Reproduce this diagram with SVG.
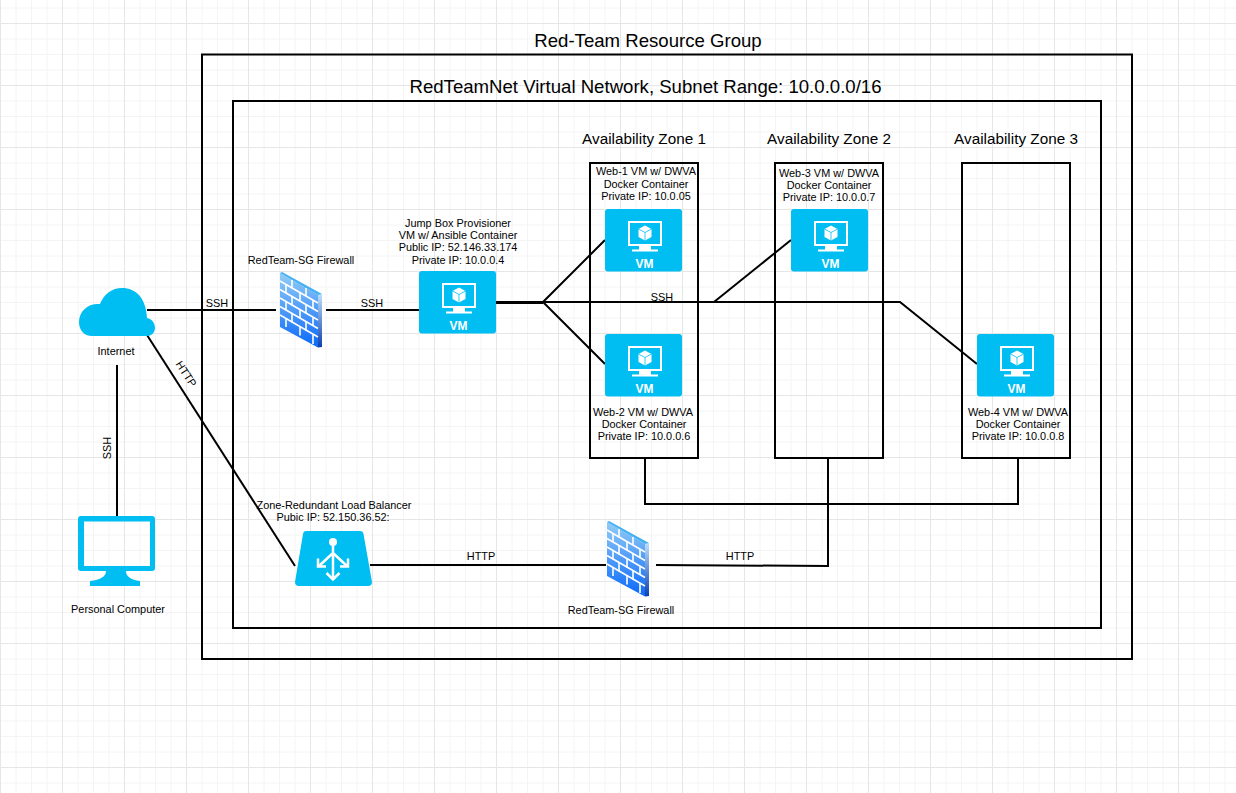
<svg xmlns="http://www.w3.org/2000/svg" xmlns:xlink="http://www.w3.org/1999/xlink" width="1236" height="793" viewBox="0 0 1236 793">
<style>
text{font-family:"Liberation Sans",Arial,sans-serif;fill:#000;text-anchor:middle}
.s{font-size:10.9px}
.l{font-size:18.600px}
.z{font-size:15.300px}
.box{fill:none;stroke:#000;stroke-width:2}
.c{fill:none;stroke:#000;stroke-width:2}
.b{fill:#00bef2}
.w{fill:#fff}
.vmt{font-size:12px;font-weight:bold;fill:#fff}
</style>
<defs>
<pattern id="grid" width="62" height="62" patternUnits="userSpaceOnUse" x="0" y="23">
<path d="M0 .5H62M0 16H62M0 31.5H62M0 47H62M.5 0V62M16 0V62M31.5 0V62M47 0V62" fill="none" stroke="#f4f4f4" stroke-width="1"/>
<path d="M0 .5H62M.5 0V62" fill="none" stroke="#e6e6e6" stroke-width="1"/>
</pattern>
<linearGradient id="fw" x1="0" y1="0" x2="0" y2="1"><stop offset="0" stop-color="#93cdf6"/><stop offset="1" stop-color="#0a68fa"/></linearGradient>
<linearGradient id="fs" x1="0" y1="0" x2="0" y2="1"><stop offset="0" stop-color="#bfe0fa"/><stop offset="1" stop-color="#0b3fae"/></linearGradient>
<g id="vm">
<rect width="77" height="62.500" rx="3" class="b"/>
<path class="w" fill-rule="evenodd" d="M23 12h34v25H46v3.500h7v2H27v-2h7V37H23zM25 14v21h30V14z"/>
<path class="w" d="M40 16.500l6.500 3.500v8L40 31.500l-6.500-3.500v-8z"/>
<path d="M33.500 20L40 23.500l6.500-3.500M40 23.500v8" stroke="#00bef2" stroke-width=".8" fill="none"/>
<text x="39.500" y="59" class="vmt">VM</text>
</g>
<g id="firewall">
<path d="M0 0L38 22V74.500L0 54z" fill="url(#fw)"/>
<path d="M38 22L42 21V74L38 74.500z" fill="url(#fs)"/>
<path d="M0 0L2 -1L42 21L38 22z" fill="#45b0f2"/>
<path d="M0 8L38 30M0 16.500L38 38.500M0 25L38 47M0 33.500L38 55.500M0 42L38 64" stroke="#fff" stroke-width="1.600" fill="none"/>
<path d="M12 7V15.500M26 15V23.500M6 12V20.500M20 20V28.500M33 27.500V36M12 24V32.500M26 32V40.500M6 29V37.500M20 37V45.500M33 44.500V53M12 41V49.500M26 49V57.500M6 46V54M20 54V62.500M33 61.500V71" stroke="#fff" stroke-width="1.600" fill="none"/>
</g>
</defs>
<rect width="1236" height="793" fill="#fff"/>
<rect width="1236" height="793" fill="url(#grid)"/>

<g id="groups">
<g id="resource-group"><rect class="box" x="202" y="54.500" width="930" height="604.500"/><text class="l" x="648" y="47">Red-Team Resource Group</text></g>
<g id="virtual-network"><rect class="box" x="233" y="101" width="868" height="527"/><text class="l" x="645.500" y="92.500">RedTeamNet Virtual Network, Subnet Range: 10.0.0.0/16</text></g>
<g id="zone-1"><rect class="box" x="590" y="163" width="108" height="295"/><text x="644" y="144" class="z">Availability Zone 1</text></g>
<g id="zone-2"><rect class="box" x="775" y="163" width="108" height="295"/><text x="829" y="144" class="z">Availability Zone 2</text></g>
<g id="zone-3"><rect class="box" x="962" y="163" width="108" height="295"/><text x="1016" y="144" class="z">Availability Zone 3</text></g>
</g>

<g id="connectors">
<path class="c" d="M147 310H276"/>
<path class="c" d="M326 310H419"/>
<path class="c" d="M496 302H900L977 364"/>
<path class="c" d="M496 303H543"/>
<path class="c" d="M543 302L605 240M543 302L605 364"/>
<path class="c" d="M714 302L791 240"/>
<path class="c" d="M117 365V516"/>
<path class="c" d="M147 335L295 566"/>
<path class="c" d="M370 565H606"/>
<path class="c" d="M656 565L828 566V458"/>
<path class="c" d="M645 458V504H1018V458"/>
<text class="s" x="217" y="307">SSH</text>
<text class="s" x="372" y="307">SSH</text>
<text class="s" x="662" y="301">SSH</text>
<text class="s" x="481" y="560">HTTP</text>
<text class="s" x="740" y="560">HTTP</text>
<text class="s" transform="translate(111 448) rotate(-90)">SSH</text>
<text class="s" transform="translate(183 376) rotate(57)">HTTP</text>
</g>

<g id="internet">
<path class="b" d="M92 336C84 336 79 330 79 322C79 311 88 303 100 304C104 294 112 288 122 288C136 288 146 298 147 318C152 319 155 323 155 328C155 333 151 336 147 336z"/>
<text class="s" x="116" y="355">Internet</text>
</g>
<g id="personal-computer">
<path class="b" fill-rule="evenodd" d="M81 516H152Q155 516 155 519V568Q155 571 152 571H126Q126 579 140 581V586H90V581Q106 579 106 571H81Q78 571 78 568V519Q78 516 81 516zM84 521.500V566H150V521.500z"/>
<text class="s" x="118" y="613">Personal Computer</text>
</g>
<g id="firewall-top">
<text class="s" x="301" y="264">RedTeam-SG Firewall</text>
<use href="#firewall" x="280" y="273"/>
</g>
<g id="jump-box">
<text class="s" x="458" y="227">Jump Box Provisioner</text>
<text class="s" x="458" y="239">VM w/ Ansible Container</text>
<text class="s" x="458" y="251">Public IP: 52.146.33.174</text>
<text class="s" x="458" y="264">Private IP: 10.0.0.4</text>
<use href="#vm" x="419" y="271"/>
</g>
<g id="web-1">
<text class="s" x="646" y="175">Web-1 VM w/ DWVA</text>
<text class="s" x="646" y="188">Docker Container</text>
<text class="s" x="646" y="200">Private IP: 10.0.05</text>
<use href="#vm" x="605" y="209"/>
</g>
<g id="web-2">
<use href="#vm" x="605" y="334"/>
<text class="s" x="643" y="416">Web-2 VM w/ DWVA</text>
<text class="s" x="644" y="428">Docker Container</text>
<text class="s" x="644" y="440">Private IP: 10.0.0.6</text>
</g>
<g id="web-3">
<text class="s" x="829" y="177">Web-3 VM w/ DWVA</text>
<text class="s" x="829" y="189">Docker Container</text>
<text class="s" x="829" y="201">Private IP: 10.0.0.7</text>
<use href="#vm" x="791" y="209"/>
</g>
<g id="web-4">
<use href="#vm" x="977" y="334"/>
<text class="s" x="1018" y="416">Web-4 VM w/ DWVA</text>
<text class="s" x="1018" y="428">Docker Container</text>
<text class="s" x="1018" y="440">Private IP: 10.0.0.8</text>
</g>
<g id="load-balancer">
<text class="s" x="334" y="509">Zone-Redundant Load Balancer</text>
<text class="s" x="333" y="521">Pubic IP: 52.150.36.52:</text>
<path class="b" d="M306 531H360Q363 531 363.500 534L372 582Q372 586 368 586H299Q295 586 295 582L303 534Q303.500 531 306 531z"/>
<circle cx="333" cy="542" r="4" class="w"/>
<path d="M333 542V579M333 553L319 566M333 553L347 566" stroke="#fff" stroke-width="2.500" fill="none"/>
<path d="M326.500 573L333 579.500L339.500 573M318 558.500V566.500H326M348 558.500V566.500H340" stroke="#fff" stroke-width="2.500" fill="none"/>
</g>
<g id="firewall-bottom">
<use href="#firewall" x="607" y="522"/>
<text class="s" x="621" y="614">RedTeam-SG Firewall</text>
</g>
</svg>
